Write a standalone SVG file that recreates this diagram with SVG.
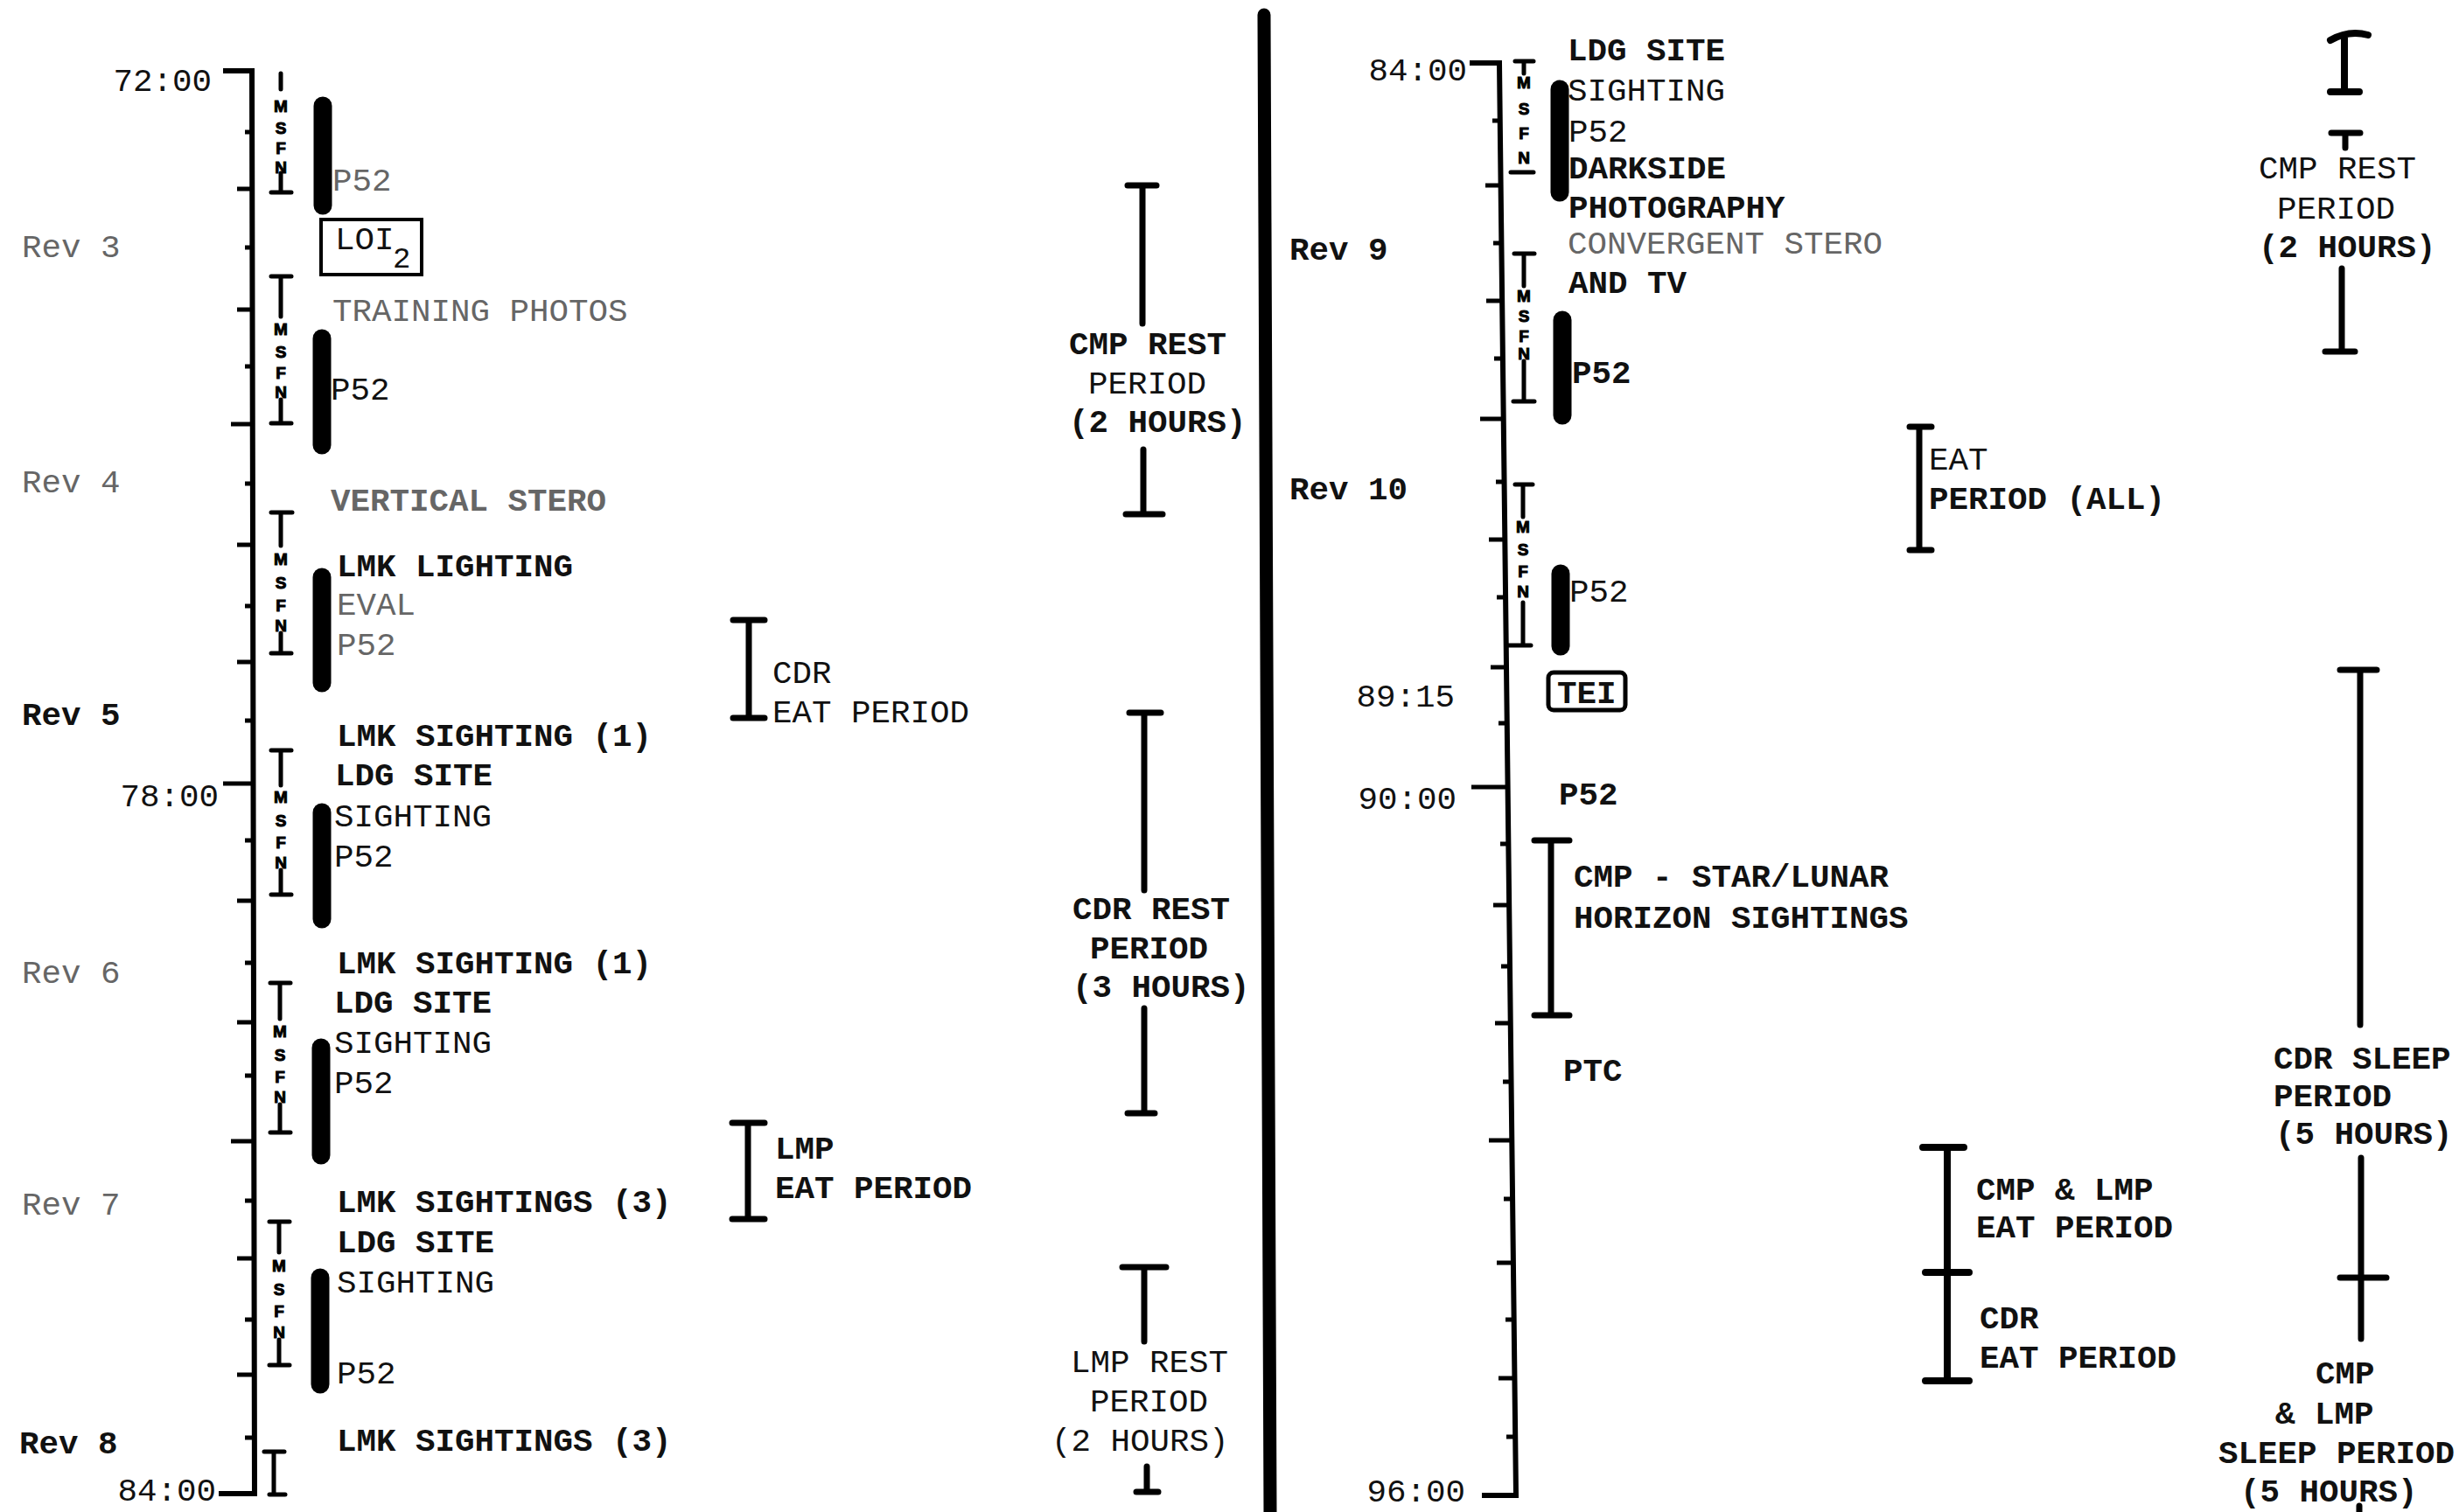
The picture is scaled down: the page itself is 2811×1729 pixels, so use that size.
<svg xmlns="http://www.w3.org/2000/svg" width="2811" height="1729" viewBox="0 0 2811 1729">
<style>
.t{font-family:"Liberation Mono","DejaVu Sans Mono",monospace;font-size:37.5px;fill:#111}
.b{font-weight:bold}
.g{fill:#666}
.e{text-anchor:end}
.ax{stroke:#000;stroke-width:6;fill:none;stroke-linejoin:miter}
.tk{stroke:#000;stroke-width:5}
.br{stroke:#000;stroke-width:7;fill:none;stroke-linecap:round}
.bar{stroke:#000;stroke-width:21;stroke-linecap:round}
.mk{stroke:#000;stroke-width:5;stroke-linecap:round;fill:none}
.ms{font-family:"Liberation Sans","DejaVu Sans",sans-serif;font-weight:bold;font-size:19px;text-anchor:middle;fill:#000;stroke:#000;stroke-width:1}
.bx{fill:none;stroke:#000;stroke-width:4}
</style>
<rect width="2811" height="1729" fill="#fff"/>

<g id="connectors"></g>

<g id="divider"><line x1="1445" y1="17" x2="1452" y2="1729" stroke="#000" stroke-width="15" stroke-linecap="round"/></g>

<g id="left-axis">
<path class="ax" d="M255 81 H288 L291 1708 H250"/>
<g class="tk">
<line x1="280" y1="151" x2="288" y2="151"/>
<line x1="271" y1="216" x2="288" y2="216"/>
<line x1="280" y1="283" x2="289" y2="283"/>
<line x1="271" y1="354" x2="289" y2="354"/>
<line x1="280" y1="419" x2="289" y2="419"/>
<line x1="264" y1="485" x2="289" y2="485"/>
<line x1="280" y1="553" x2="289" y2="553"/>
<line x1="271" y1="623" x2="289" y2="623"/>
<line x1="280" y1="693" x2="289" y2="693"/>
<line x1="271" y1="757" x2="289" y2="757"/>
<line x1="280" y1="824" x2="289" y2="824"/>
<line x1="255" y1="896" x2="290" y2="896"/>
<line x1="280" y1="961" x2="290" y2="961"/>
<line x1="271" y1="1030" x2="290" y2="1030"/>
<line x1="280" y1="1101" x2="290" y2="1101"/>
<line x1="271" y1="1169" x2="290" y2="1169"/>
<line x1="280" y1="1230" x2="290" y2="1230"/>
<line x1="264" y1="1305" x2="290" y2="1305"/>
<line x1="280" y1="1373" x2="290" y2="1373"/>
<line x1="271" y1="1439" x2="291" y2="1439"/>
<line x1="280" y1="1509" x2="291" y2="1509"/>
<line x1="271" y1="1572" x2="291" y2="1572"/>
<line x1="280" y1="1644" x2="291" y2="1644"/>
</g>
<text class="t e" x="242" y="104">72:00</text>
<text class="t e" x="250" y="922">78:00</text>
<text class="t e" x="247" y="1716">84:00</text>
<text class="t g" x="25" y="294">Rev 3</text>
<text class="t g" x="25" y="563">Rev 4</text>
<text class="t b" x="25" y="829">Rev 5</text>
<text class="t g" x="25" y="1124">Rev 6</text>
<text class="t g" x="25" y="1389">Rev 7</text>
<text class="t b" x="22" y="1662">Rev 8</text>
</g>

<g id="left-msfn">
<g id="msfn-l1"><path class="mk" d="M321 84 V102 M321 198 V219 M310 220 H333"/><text class="ms" x="321" y="128">M</text><text class="ms" x="321" y="153">S</text><text class="ms" x="321" y="176">F</text><text class="ms" x="321" y="198">N</text></g>
<g id="msfn-l2"><path class="mk" d="M310 316 H333 M321 316 V362 M321 457 V484 M310 484 H333"/><text class="ms" x="321" y="383">M</text><text class="ms" x="321" y="409">S</text><text class="ms" x="321" y="433">F</text><text class="ms" x="321" y="455">N</text></g>
<g id="msfn-l3"><path class="mk" d="M310 586 H334 M321 586 V624 M321 724 V747 M310 747 H333"/><text class="ms" x="321" y="646">M</text><text class="ms" x="321" y="673">S</text><text class="ms" x="321" y="699">F</text><text class="ms" x="321" y="722">N</text></g>
<g id="msfn-l4"><path class="mk" d="M310 858 H333 M321 858 V898 M321 995 V1023 M310 1023 H333"/><text class="ms" x="321" y="918">M</text><text class="ms" x="321" y="945">S</text><text class="ms" x="321" y="970">F</text><text class="ms" x="321" y="993">N</text></g>
<g id="msfn-l5"><path class="mk" d="M309 1124 H332 M320 1124 V1165 M320 1263 V1295 M309 1295 H332"/><text class="ms" x="320" y="1186">M</text><text class="ms" x="320" y="1213">S</text><text class="ms" x="320" y="1238">F</text><text class="ms" x="320" y="1261">N</text></g>
<g id="msfn-l6"><path class="mk" d="M308 1397 H331 M319 1397 V1432 M319 1532 V1561 M308 1561 H331"/><text class="ms" x="319" y="1454">M</text><text class="ms" x="319" y="1481">S</text><text class="ms" x="319" y="1506">F</text><text class="ms" x="319" y="1530">N</text></g>
<g id="msfn-l7"><path class="mk" d="M302 1660 H325 M313 1660 V1709 M308 1709 H326"/></g>
</g>

<g id="left-bars">
<line class="bar" x1="369" y1="121" x2="369" y2="235"/>
<line class="bar" x1="368" y1="387" x2="368" y2="509"/>
<line class="bar" x1="368" y1="660" x2="368" y2="781"/>
<line class="bar" x1="368" y1="929" x2="368" y2="1051"/>
<line class="bar" x1="367" y1="1198" x2="367" y2="1321"/>
<line class="bar" x1="366" y1="1461" x2="366" y2="1583"/>
</g>

<g id="left-events">
<text class="t g" x="380" y="218">P52</text>
<g id="loi2"><rect class="bx" x="367" y="251" width="115" height="63"/><text class="t" x="383" y="285">LOI</text><text class="t" x="449" y="306" style="font-size:34px">2</text></g>
<text class="t g" x="380" y="367">TRAINING PHOTOS</text>
<text class="t" x="378" y="457">P52</text>
<text class="t b g" x="378" y="584">VERTICAL STERO</text>
<text class="t b" x="385" y="659">LMK LIGHTING</text>
<text class="t g" x="385" y="703">EVAL</text>
<text class="t g" x="385" y="749">P52</text>
<text class="t b" x="385" y="853">LMK SIGHTING (1)</text>
<text class="t b" x="383" y="898">LDG SITE</text>
<text class="t" x="382" y="945">SIGHTING</text>
<text class="t" x="382" y="991">P52</text>
<text class="t b" x="385" y="1113">LMK SIGHTING (1)</text>
<text class="t b" x="382" y="1158">LDG SITE</text>
<text class="t" x="382" y="1204">SIGHTING</text>
<text class="t" x="382" y="1250">P52</text>
<text class="t b" x="385" y="1386">LMK SIGHTINGS (3)</text>
<text class="t b" x="385" y="1432">LDG SITE</text>
<text class="t" x="385" y="1478">SIGHTING</text>
<text class="t" x="385" y="1582">P52</text>
<text class="t b" x="385" y="1659">LMK SIGHTINGS (3)</text>
</g>

<g id="cdr-eat-1"><path class="br" d="M838 709 H874 M856 709 V821 M838 821 H874"/><text class="t" x="883" y="781">CDR</text><text class="t" x="883" y="826">EAT PERIOD</text></g>
<g id="lmp-eat-1"><path class="br" d="M837 1284 H874 M855 1284 V1394 M837 1394 H874"/><text class="t b" x="886" y="1325">LMP</text><text class="t b" x="886" y="1370">EAT PERIOD</text></g>

<g id="cmp-rest-1"><path class="br" d="M1289 212 H1322 M1306 212 V370 M1307 514 V588 M1287 588 H1329"/><text class="t b" x="1222" y="405">CMP REST</text><text class="t" x="1244" y="450">PERIOD</text><text class="t b" x="1222" y="494">(2 HOURS)</text></g>
<g id="cdr-rest"><path class="br" d="M1291 815 H1327 M1308 815 V1018 M1308 1153 V1273 M1289 1273 H1320"/><text class="t b" x="1226" y="1051">CDR REST</text><text class="t b" x="1246" y="1096">PERIOD</text><text class="t b" x="1226" y="1140">(3 HOURS)</text></g>
<g id="lmp-rest"><path class="br" d="M1283 1449 H1333 M1308 1449 V1534 M1311 1677 V1705 M1299 1706 H1324"/><text class="t" x="1224" y="1569">LMP REST</text><text class="t" x="1246" y="1614">PERIOD</text><text class="t" x="1202" y="1659">(2 HOURS)</text></g>

<g id="right-axis">
<path class="ax" d="M1680 72 H1714 L1733 1710 H1694"/>
<g class="tk">
<line x1="1706" y1="138" x2="1715" y2="138"/>
<line x1="1698" y1="212" x2="1716" y2="212"/>
<line x1="1707" y1="278" x2="1716" y2="278"/>
<line x1="1699" y1="344" x2="1717" y2="344"/>
<line x1="1708" y1="410" x2="1718" y2="410"/>
<line x1="1692" y1="479" x2="1719" y2="479"/>
<line x1="1710" y1="551" x2="1720" y2="551"/>
<line x1="1702" y1="617" x2="1720" y2="617"/>
<line x1="1711" y1="683" x2="1721" y2="683"/>
<line x1="1704" y1="763" x2="1722" y2="763"/>
<line x1="1713" y1="827" x2="1723" y2="827"/>
<line x1="1682" y1="900" x2="1724" y2="900"/>
<line x1="1715" y1="965" x2="1725" y2="965"/>
<line x1="1707" y1="1035" x2="1725" y2="1035"/>
<line x1="1716" y1="1105" x2="1726" y2="1105"/>
<line x1="1709" y1="1170" x2="1727" y2="1170"/>
<line x1="1718" y1="1237" x2="1728" y2="1237"/>
<line x1="1702" y1="1304" x2="1728" y2="1304"/>
<line x1="1719" y1="1371" x2="1729" y2="1371"/>
<line x1="1711" y1="1444" x2="1730" y2="1444"/>
<line x1="1721" y1="1509" x2="1731" y2="1509"/>
<line x1="1713" y1="1576" x2="1731" y2="1576"/>
<line x1="1722" y1="1643" x2="1732" y2="1643"/>
</g>
<text class="t e" x="1677" y="92">84:00</text>
<text class="t e" x="1663" y="808">89:15</text>
<text class="t e" x="1665" y="925">90:00</text>
<text class="t e" x="1675" y="1717">96:00</text>
<text class="t b" x="1474" y="297">Rev 9</text>
<text class="t b" x="1474" y="571">Rev 10</text>
</g>

<g id="right-msfn">
<g id="msfn-r1"><path class="mk" d="M1732 70 H1753 M1742 70 V84 M1727 197 H1753"/><text class="ms" x="1742" y="101">M</text><text class="ms" x="1742" y="131">S</text><text class="ms" x="1742" y="159">F</text><text class="ms" x="1742" y="187">N</text></g>
<g id="msfn-r2"><path class="mk" d="M1731 290 H1754 M1742 290 V327 M1742 413 V459 M1730 459 H1754"/><text class="ms" x="1742" y="345">M</text><text class="ms" x="1742" y="368">S</text><text class="ms" x="1742" y="391">F</text><text class="ms" x="1742" y="411">N</text></g>
<g id="msfn-r3"><path class="mk" d="M1732 554 H1752 M1741 554 V591 M1741 689 V738 M1722 738 H1750"/><text class="ms" x="1741" y="609">M</text><text class="ms" x="1741" y="635">S</text><text class="ms" x="1741" y="660">F</text><text class="ms" x="1741" y="683">N</text></g>
</g>

<g id="right-bars">
<line class="bar" x1="1783" y1="102" x2="1783" y2="220"/>
<line class="bar" x1="1786" y1="366" x2="1786" y2="475"/>
<line class="bar" x1="1784" y1="656" x2="1784" y2="739"/>
</g>

<g id="right-events">
<text class="t b" x="1792" y="69">LDG SITE</text>
<text class="t" x="1792" y="115">SIGHTING</text>
<text class="t" x="1793" y="162">P52</text>
<text class="t b" x="1793" y="204">DARKSIDE</text>
<text class="t b" x="1793" y="249">PHOTOGRAPHY</text>
<text class="t g" x="1792" y="290">CONVERGENT STERO</text>
<text class="t b" x="1793" y="335">AND TV</text>
<text class="t b" x="1797" y="438">P52</text>
<text class="t" x="1794" y="688">P52</text>
<g id="tei"><rect x="1770" y="769" width="88" height="43" rx="6" fill="none" stroke="#000" stroke-width="5"/><text class="t b" x="1780" y="804">TEI</text></g>
<text class="t b" x="1782" y="920">P52</text>
<text class="t b" x="1787" y="1236">PTC</text>
</g>

<g id="star-lunar"><path class="br" d="M1754 961 H1794 M1773 961 V1161 M1754 1161 H1794"/><text class="t b" x="1799" y="1014">CMP - STAR/LUNAR</text><text class="t b" x="1799" y="1061">HORIZON SIGHTINGS</text></g>

<g id="eat-all"><path class="br" d="M2183 488 H2208 M2194 488 V629 M2183 629 H2208"/><text class="t" x="2205" y="537">EAT</text><text class="t b" x="2205" y="582">PERIOD (ALL)</text></g>

<g id="eat-cmp-lmp-cdr"><path class="br" style="stroke-width:8" d="M2198 1312 H2245 M2226 1312 V1579 M2201 1455 H2251 M2201 1579 H2251"/><text class="t b" x="2259" y="1372">CMP &amp; LMP</text><text class="t b" x="2259" y="1415">EAT PERIOD</text><text class="t b" x="2263" y="1519">CDR</text><text class="t b" x="2263" y="1564">EAT PERIOD</text></g>

<g id="cmp-rest-2"><path class="br" style="stroke-width:8" d="M2664 46 Q2685 34 2707 40 M2680 42 V105 M2664 105 H2697"/><path class="br" d="M2665 152 H2698 M2681 152 V169 M2677 307 V402 M2658 402 H2692"/><text class="t" x="2582" y="204">CMP REST</text><text class="t" x="2603" y="250">PERIOD</text><text class="t b" x="2582" y="294">(2 HOURS)</text></g>

<g id="cdr-sleep"><path class="br" d="M2675 766 H2717 M2698 766 V1172 M2699 1324 V1531 M2675 1461 H2728"/><text class="t b" x="2599" y="1222">CDR SLEEP</text><text class="t b" x="2599" y="1265">PERIOD</text><text class="t b" x="2601" y="1308">(5 HOURS)</text></g>

<g id="cmp-lmp-sleep"><path class="br" d="M2697 1722 V1729"/><text class="t b" x="2647" y="1582">CMP</text><text class="t b" x="2601" y="1628">&amp; LMP</text><text class="t b" x="2536" y="1673">SLEEP PERIOD</text><text class="t b" x="2561" y="1717">(5 HOURS)</text></g>
</svg>
